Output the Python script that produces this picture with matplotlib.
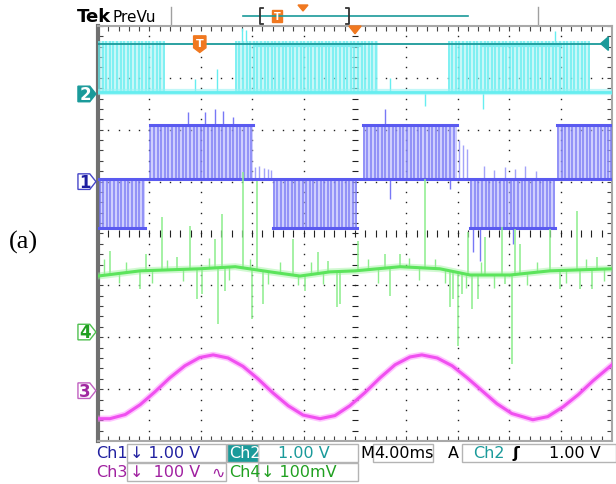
import numpy as np
import matplotlib.pyplot as plt
from matplotlib.patches import Polygon, Rectangle

# screen units: x in divisions (0..10, 4 ms/div), y in divisions (-4..4)

# Ch1 - three level PWM voltage (blue)
ch1_gnd = 1.0
ch1_mid = 1.05
ch1_high = 2.09
ch1_low = 0.10
ch1_pos_seg = [(1.01, 3.02), (5.16, 6.98), (8.93, 10.0)]
ch1_neg_seg = [(0.0, 0.91), (3.40, 5.04), (7.24, 8.89)]
ch1_pos_pulses = [1.02, 1.09, 1.16, 1.23, 1.30, 1.37, 1.44, 1.51, 1.58, 1.65, 1.72, 1.79, 1.86, 1.93,
                  2.00, 2.07, 2.14, 2.21, 2.28, 2.35, 2.42, 2.49, 2.56, 2.63, 2.70, 2.77, 2.84, 2.91, 2.98,
                  5.17, 5.24, 5.31, 5.38, 5.45, 5.52, 5.59, 5.66, 5.73, 5.80, 5.87, 5.94, 6.01, 6.08,
                  6.15, 6.22, 6.29, 6.36, 6.43, 6.50, 6.57, 6.64, 6.71, 6.78, 6.85, 6.92,
                  8.95, 9.02, 9.09, 9.16, 9.23, 9.30, 9.37, 9.44, 9.51, 9.58, 9.65, 9.72, 9.79, 9.86, 9.93, 9.99]
ch1_neg_pulses = [0.03, 0.10, 0.17, 0.24, 0.31, 0.38, 0.45, 0.52, 0.59, 0.66, 0.73, 0.80, 0.87,
                  3.42, 3.49, 3.56, 3.63, 3.70, 3.77, 3.84, 3.91, 3.98, 4.05, 4.12, 4.19, 4.26, 4.33,
                  4.40, 4.47, 4.54, 4.61, 4.68, 4.75, 4.82, 4.89, 4.96, 5.02,
                  7.26, 7.33, 7.40, 7.47, 7.54, 7.61, 7.68, 7.75, 7.82, 7.89, 7.96, 8.03, 8.10, 8.17,
                  8.24, 8.31, 8.38, 8.45, 8.52, 8.59, 8.66, 8.73, 8.80, 8.87]
ch1_part_x = [3.06, 3.14, 3.22, 3.30, 3.37, 7.02, 7.10, 7.18, 7.50, 7.71, 7.92, 8.12, 8.31, 8.52]
ch1_part_top = [1.28, 1.30, 1.26, 1.25, 1.22, 1.80, 1.70, 1.62, 1.30, 1.22, 1.28, 1.25, 1.30, 1.20]
ch1_spike_x = [1.75, 2.08, 2.28, 2.43, 2.63, 5.58, 5.68, 6.85, 7.30, 7.43, 8.07]
ch1_spike_from = [2.09, 2.09, 2.09, 2.09, 2.09, 2.09, 1.05, 1.05, 0.10, 0.10, 0.10]
ch1_spike_to = [2.34, 2.34, 2.40, 2.36, 2.24, 2.40, 0.66, 0.86, -0.36, -0.53, -0.20]

# Ch2 - gate signal (cyan)
ch2_gnd = 2.69
ch2_base = 2.73
ch2_high = 3.71
ch2_plateau = 3.63
ch2_seg = [(0.0, 1.30), (2.67, 5.45), (6.81, 9.57)]
ch2_plateau_seg = [(3.09, 5.10), (7.49, 8.99)]
ch2_pulses = [0.02, 0.09, 0.16, 0.23, 0.30, 0.37, 0.44, 0.51, 0.58, 0.65, 0.72, 0.79, 0.86, 0.93,
              1.00, 1.07, 1.14, 1.21, 1.28,
              2.68, 2.75, 2.82, 2.89, 2.96, 3.03, 3.10, 3.17, 3.24, 3.31, 3.38, 3.45, 3.52, 3.59,
              3.66, 3.73, 3.80, 3.87, 3.94, 4.01, 4.08, 4.15, 4.22, 4.29, 4.36, 4.43, 4.50, 4.57,
              4.64, 4.71, 4.78, 4.85, 4.92, 4.99, 5.06, 5.13, 5.20, 5.27, 5.34, 5.41,
              6.82, 6.89, 6.96, 7.03, 7.10, 7.17, 7.24, 7.31, 7.38, 7.45, 7.52, 7.59, 7.66, 7.73,
              7.80, 7.87, 7.94, 8.01, 8.08, 8.15, 8.22, 8.29, 8.36, 8.43, 8.50, 8.57, 8.64, 8.71,
              8.78, 8.85, 8.92, 8.99, 9.06, 9.13, 9.20, 9.27, 9.34, 9.41, 9.48, 9.55]
ch2_spike_x = [2.80, 2.88, 8.89, 1.89, 2.32, 5.68, 6.36, 7.49]
ch2_spike_from = [3.71, 3.71, 3.71, 2.73, 2.73, 2.73, 2.73, 2.73]
ch2_spike_to = [3.96, 3.92, 3.90, 2.98, 3.17, 3.00, 2.46, 2.40]

# Ch3 - grid voltage (magenta)
ch3_gnd = -3.03
ch3_x = [0.00, 0.23, 0.53, 0.82, 1.11, 1.40, 1.69, 1.98, 2.24, 2.53, 2.82, 3.11, 3.40, 3.70, 3.99,
         4.32, 4.61, 4.90, 5.19, 5.49, 5.78, 6.07, 6.30, 6.60, 6.89, 7.18, 7.47, 7.76, 8.05, 8.46,
         8.75, 9.05, 9.34, 9.63, 10.0]
ch3_y = [-3.57, -3.57, -3.49, -3.30, -3.05, -2.78, -2.55, -2.39, -2.34, -2.40, -2.56, -2.80, -3.07,
         -3.32, -3.50, -3.57, -3.51, -3.32, -3.07, -2.78, -2.53, -2.38, -2.34, -2.40, -2.55, -2.78,
         -3.03, -3.28, -3.47, -3.59, -3.53, -3.34, -3.11, -2.84, -2.53]

# Ch4 - current (green)
ch4_gnd = -1.90
ch4_x = [0.0, 0.82, 1.98, 2.67, 3.35, 3.93, 4.51, 5.0, 5.88, 6.65, 7.24, 8.02, 8.79, 10.0]
ch4_y = [-0.82, -0.72, -0.68, -0.64, -0.74, -0.82, -0.74, -0.72, -0.64, -0.68, -0.80, -0.80, -0.72, -0.68]
ch4_spike_x = [0.23, 0.82, 0.93, 1.25, 1.54, 1.79, 1.93, 2.02, 2.28, 2.33, 2.41, 2.47, 2.82, 3.00,
               3.09, 3.21, 3.79, 4.03, 4.28, 4.47, 4.65, 4.71, 5.06, 5.58, 5.68, 5.88, 6.36, 6.85,
               6.91, 7.00, 7.08, 7.20, 7.28, 7.39, 7.53, 7.86, 7.92, 8.05, 8.11, 8.21, 8.79, 8.99,
               9.32, 9.38, 9.61, 9.71]
ch4_spike_y = [-0.34, -1.07, -0.39, 0.32, -0.45, 0.14, -1.26, -1.16, -0.11, -1.74, 0.38, -1.11,
               1.18, -1.65, 1.01, -1.36, -0.11, -1.11, -0.36, -0.53, -1.42, -1.36, -0.14, -0.39,
               -1.20, -0.39, 1.05, -1.42, -1.26, -2.16, -1.16, 0.03, -1.45, -1.26, -0.07, 0.13,
               -0.97, -2.51, 0.09, -0.20, 0.09, -1.07, 0.43, -1.07, -1.07, -0.45]
# short noise spikes on the green trace
ch4_small_x = [0.12, 0.40, 0.55, 1.05, 1.35, 1.65, 2.15, 2.55, 2.95, 3.30, 3.55, 3.90, 4.15, 4.38,
               5.25, 5.45, 6.05, 6.25, 6.55, 6.75, 7.15, 7.45, 7.70, 8.35, 8.55, 9.10, 9.50, 9.85]
ch4_small_y = [-0.50, -0.95, -0.55, -0.95, -0.52, -0.92, -0.48, -0.90, -0.50, -0.98, -0.55, -1.00,
               -0.55, -0.98, -0.50, -0.95, -0.48, -0.90, -0.50, -0.95, -1.05, -0.55, -1.05, -1.00,
               -0.55, -0.95, -0.50, -0.92]

# trigger
trig_level = 3.66
trig_pos = 1.98
trig_center = 5.0

# status bar
row1 = ['Ch1', '\u2193 1.00 V', 'Ch2', '1.00 V', 'M', '4.00ms', 'A', 'Ch2', '\u0283', '1.00 V']
row2 = ['Ch3', '\u2193  100 V', '\u223f', 'Ch4', '\u2193 100mV']

c_blue = '#5a5af0'
c_cyan = '#66eef0'
c_mag = '#f050f0'
c_green = '#5ce45c'
c_teal = '#1a9a9a'
c_orange = '#f07820'

fig = plt.figure(figsize=(6.16, 4.85), dpi=100)
ov = fig.add_axes([0, 0, 1, 1], zorder=0)
ov.set_xlim(0, 616)
ov.set_ylim(485, 0)
ov.axis('off')

ax = fig.add_axes([98 / 616, 43 / 485, 514 / 616, 415 / 485], zorder=1)
ax.set_xlim(0, 10)
ax.set_ylim(-4, 4)
ax.set_xticks([])
ax.set_yticks([])
for s in ['top', 'right', 'bottom']:
    ax.spines[s].set_color('#a8a8a8')
    ax.spines[s].set_linewidth(1.5)
ax.spines['left'].set_color('#707070')
ax.spines['left'].set_linewidth(3)

# graticule
mx = np.arange(0, 10.001, 0.2)
my = np.arange(-4, 4.001, 0.2)
for k in range(1, 10):
    if k != 5:
        ax.plot([k] * len(my), my, ls='none', marker='s', ms=1.0, mew=0, color='#222222', zorder=1)
for k in range(-3, 4):
    if k != 0:
        ax.plot(mx, [k] * len(mx), ls='none', marker='s', ms=1.0, mew=0, color='#222222', zorder=1)
ax.vlines(mx, -0.06, 0.06, color='#222222', lw=0.8, zorder=1)
ax.hlines(my, 4.95, 5.05, color='#222222', lw=0.8, zorder=1)
ax.vlines(mx, 3.9, 4.0, color='#444444', lw=0.8, zorder=1)
ax.vlines(mx, -4.0, -3.9, color='#444444', lw=0.8, zorder=1)
ax.hlines(my, 0, 0.1, color='#444444', lw=0.8, zorder=1)
ax.hlines(my, 9.9, 10, color='#444444', lw=0.8, zorder=1)

# trigger level line
ax.plot([0, 9.8], [trig_level, trig_level], color=c_teal, lw=1.3, zorder=6)

# Ch2
for a, b in ch2_seg:
    ax.fill_between([a, b], ch2_base, ch2_high, color='#a4f2f4', alpha=0.6, lw=0, zorder=2)
ax.vlines(ch2_pulses, ch2_base, ch2_high, color=c_cyan, lw=1.1, alpha=0.95, zorder=3)
ax.vlines(ch2_spike_x, ch2_spike_from, ch2_spike_to, color=c_cyan, lw=1.0, zorder=3)
for a, b in ch2_plateau_seg:
    ax.plot([a, b], [ch2_plateau, ch2_plateau], color='#80eef0', lw=3, zorder=3)
ax.plot([0, 10], [ch2_base, ch2_base], color='#9af2f4', lw=4.5, alpha=0.6, zorder=3)
ax.plot([0, 10], [ch2_base, ch2_base], color=c_cyan, lw=2, zorder=3)

# Ch1
for a, b in ch1_pos_seg:
    ax.fill_between([a, b], ch1_mid, ch1_high, color='#b0b0fc', alpha=0.6, lw=0, zorder=2)
    ax.plot([a, b], [ch1_high, ch1_high], color=c_blue, lw=2.2, zorder=4)
for a, b in ch1_neg_seg:
    ax.fill_between([a, b], ch1_low, ch1_mid, color='#b0b0fc', alpha=0.6, lw=0, zorder=2)
    ax.plot([a, b], [ch1_low, ch1_low], color=c_blue, lw=2.2, zorder=4)
ax.vlines(ch1_pos_pulses, ch1_mid, ch1_high, color='#7474f4', lw=1.1, alpha=0.85, zorder=3)
ax.vlines(ch1_neg_pulses, ch1_low, ch1_mid, color='#7474f4', lw=1.1, alpha=0.85, zorder=3)
ax.vlines(ch1_part_x, ch1_mid, ch1_part_top, color='#8c8cf8', lw=1.0, alpha=0.8, zorder=3)
ax.vlines(ch1_spike_x, ch1_spike_from, ch1_spike_to, color='#7878f6', lw=1.0, zorder=3)
ax.plot([0, 10], [ch1_mid, ch1_mid], color=c_blue, lw=2.2, zorder=4)

# Ch4
ax.vlines(ch4_spike_x, np.interp(ch4_spike_x, ch4_x, ch4_y), ch4_spike_y,
          color='#8cee8c', lw=1.1, zorder=4)
ax.vlines(ch4_small_x, np.interp(ch4_small_x, ch4_x, ch4_y), ch4_small_y,
          color='#8cee8c', lw=1.0, zorder=4)
ax.plot(ch4_x, ch4_y, color='#9af29a', lw=5, alpha=0.45, zorder=4)
ax.plot(ch4_x, ch4_y, color=c_green, lw=2.2, zorder=5)

# Ch3
ax.plot(ch3_x, ch3_y, color='#ff80ff', lw=4.5, alpha=0.45, zorder=5)
ax.plot(ch3_x, ch3_y, color=c_mag, lw=2.2, zorder=5)


# channel ground markers on the left edge
def marker(y, face, edge, txt, tcol):
    pts = [(-0.39, y - 0.15), (-0.16, y - 0.15), (-0.04, y), (-0.16, y + 0.15), (-0.39, y + 0.15)]
    ax.add_patch(Polygon(pts, closed=True, facecolor=face, edgecolor=edge, lw=1.0,
                         clip_on=False, zorder=7))
    ax.text(-0.25, y, txt, color=tcol, fontsize=12, fontweight='bold', ha='center',
            va='center', clip_on=False, zorder=8)


marker(ch2_gnd, c_teal, c_teal, '2', 'white')
marker(ch1_gnd, 'white', '#4646c8', '1', '#1e1ea0')
marker(ch4_gnd, 'white', '#50c050', '4', '#20a020')
marker(ch3_gnd, 'white', '#c060c0', '3', '#a028a0')

# trigger markers
ax.add_patch(Polygon([(9.78, trig_level), (9.93, trig_level + 0.13), (9.93, trig_level - 0.13)],
                     closed=True, color=c_teal, clip_on=False, zorder=7))
ax.add_patch(Polygon([(trig_pos - 0.12, trig_level + 0.15), (trig_pos + 0.12, trig_level + 0.15),
                      (trig_pos + 0.12, trig_level - 0.08), (trig_pos, trig_level - 0.17),
                      (trig_pos - 0.12, trig_level - 0.08)],
                     closed=True, color=c_orange, zorder=8))
ax.text(trig_pos, trig_level + 0.01, 'T', color='white', fontsize=8, fontweight='bold',
        ha='center', va='center', zorder=9)
ax.add_patch(Polygon([(trig_center - 0.12, 4.0), (trig_center + 0.12, 4.0), (trig_center, 3.85)],
                     closed=True, color=c_orange, clip_on=False, zorder=8))

# header
ov.text(77, 17, 'Tek', fontsize=13, fontweight='bold', va='center', ha='left')
ov.text(113, 17, 'PreVu', fontsize=11, va='center', ha='left')
ov.plot([171, 171], [8, 26], color='#a0a0a0', lw=1)
ov.plot([538, 538], [8, 26], color='#a0a0a0', lw=1)
ov.plot([243, 468], [17, 17], color=c_teal, lw=1.2)
ov.plot([263, 260, 260, 263], [9, 9, 25, 25], color='#333333', lw=1.3)
ov.plot([346, 349, 349, 346], [9, 9, 25, 25], color='#333333', lw=1.3)
ov.add_patch(Rectangle((272, 11), 10, 12, color=c_orange))
ov.text(277, 17.5, 'T', color='white', fontsize=7, fontweight='bold', ha='center', va='center')
ov.add_patch(Polygon([(298, 6), (308, 6), (303, 12)], closed=True, color=c_orange))

# status bar
box = dict(facecolor='white', edgecolor='#b4b4b4', lw=1)
for x0, y0, w in [(127, 445, 99), (258, 445, 100), (373, 445, 60), (462, 445, 154),
                  (127, 464, 99), (258, 464, 100)]:
    ov.add_patch(Rectangle((x0, y0), w, 18, **box))
ov.add_patch(Rectangle((227, 445), 31, 18, facecolor=c_teal, edgecolor='#b4b4b4', lw=1))
fs = 11.5
ov.text(96, 454, row1[0], color='#2020a0', fontsize=fs, va='center')
ov.text(130, 454, row1[1], color='#2020a0', fontsize=fs, va='center')
ov.text(229, 454, row1[2], color='white', fontsize=fs, va='center')
ov.text(278, 454, row1[3], color=c_teal, fontsize=fs, va='center')
ov.text(360, 454, row1[4], color='black', fontsize=fs, va='center')
ov.text(374, 454, row1[5], color='black', fontsize=fs, va='center')
ov.text(448, 454, row1[6], color='black', fontsize=fs, va='center')
ov.text(473, 454, row1[7], color=c_teal, fontsize=fs, va='center')
ov.text(513, 454, row1[8], color='black', fontsize=fs, fontweight='bold', va='center')
ov.text(549, 454, row1[9], color='black', fontsize=fs, va='center')
ov.text(96, 473, row2[0], color='#a020a0', fontsize=fs, va='center')
ov.text(130, 473, row2[1], color='#a020a0', fontsize=fs, va='center')
ov.text(211, 473, row2[2], color='#a020a0', fontsize=fs, va='center')
ov.text(229, 473, row2[3], color='#20a020', fontsize=fs, va='center')
ov.text(261, 473, row2[4], color='#20a020', fontsize=fs, va='center')

# panel label
ov.text(23, 242, '(a)', family='Liberation Serif', fontsize=19, ha='center', va='center')

plt.savefig('out.png', dpi=100)
